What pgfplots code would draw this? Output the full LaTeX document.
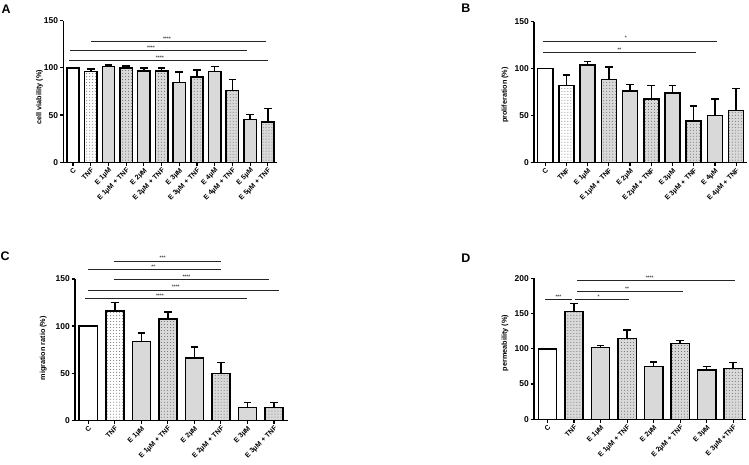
\documentclass[border=0pt]{standalone}
\usepackage{fontspec}
\setmainfont{Liberation Sans}
\usepackage{pgfplots}
\pgfplotsset{compat=1.18}
\usetikzlibrary{patterns}

\tikzset{
  sig/.style={line width=1bp, black!85},
  sigstar/.style={anchor=south, inner sep=0.6bp, yshift=0.5bp, text=black!75, font=\bfseries\fontsize{5}{5}\selectfont},
}
\pgfplotsset{
  gp/.style={
    scale only axis, anchor=south west,
    axis x line*=bottom, axis y line*=left,
    axis line style={line width=1.5bp, -, black},
    tick align=outside, major tick length=3.5bp,
    tick style={line width=1.2bp, black},
    ymin=0,
    x tick label style={rotate=45, anchor=north east, font=\bfseries\fontsize{7}{7}\selectfont, inner sep=1bp},
    y tick label style={font=\bfseries\fontsize{8.5}{9}\selectfont, inner sep=1.5bp},
    /pgf/number format/assume math mode=true,
    ylabel style={font=\bfseries\fontsize{7.3}{8}\selectfont, anchor=center},
    clip=false,
  },
  eb/.style={error bars/y dir=plus, error bars/y explicit,
    error bars/error bar style={line width=1.5bp, black},
    error bars/error mark options={rotate=90, mark size=3.8bp, line width=1.5bp, black}},
  barC/.style={ybar, bar shift=0pt, draw=black, line width=1.5bp, fill=white},
  barT/.style={ybar, bar shift=0pt, draw=black, line width=1.5bp, fill=white, postaction={pattern=dots, pattern color=black!55}},
  barE/.style={ybar, bar shift=0pt, draw=black, line width=1.5bp, fill=gray!30},
  barET/.style={ybar, bar shift=0pt, draw=black, line width=1.5bp, fill=gray!30, postaction={pattern=dots, pattern color=black!60}},
}

\begin{document}
\begin{tikzpicture}
\path[use as bounding box] (0,0) rectangle (749bp,465bp);

% ---------------- A ----------------
\node[font=\bfseries\fontsize{12.5}{13}\selectfont] at (6bp,455.5bp) {A};
\begin{axis}[gp, at={(63.3bp,302.7bp)}, width=213.4bp, height=141.6bp,
  xmin=-0.55, xmax=11.5, ymax=150, ytick={0,50,100,150},
  xtick={0,...,11},
  xticklabels={C, TNF, E 1µM, E 1µM + TNF, E 2µM, E 2µM + TNF, E 3µM, E 3µM + TNF, E 4µM, E 4µM + TNF, E 5µM, E 5µM + TNF},
  ylabel={cell viability (\%)}, ylabel style={at={(axis description cs:-0.112,0.46)}},
  bar width=0.70]
\addplot[barC] table[x=x,y=y] {
x y
0 100
};
\addplot[barT, eb] table[x=x,y=y,y error=e] {
x y e
1 96 3
};
\addplot[barE, eb] table[x=x,y=y,y error=e] {
x y e
2 101.3 1.7
4 96.7 3.3
6 84.7 10.9
8 96.4 5.2
10 45.2 5.3
};
\addplot[barET, eb] table[x=x,y=y,y error=e] {
x y e
3 100 2
5 96.7 3.3
7 90.4 7.4
9 76.2 11.7
11 42.7 14.5
};
\draw[sig] (axis cs:1,127.8) -- (axis cs:10.9,127.8);
\node[sigstar] at (axis cs:5.3,127.8) {****};
\draw[sig] (axis cs:-0.15,117.9) -- (axis cs:9.8,117.9);
\node[sigstar] at (axis cs:4.4,117.9) {****};
\draw[sig] (axis cs:-0.2,107.7) -- (axis cs:11,107.7);
\node[sigstar] at (axis cs:4.9,107.7) {****};
\end{axis}

% ---------------- B ----------------
\node[font=\bfseries\fontsize{12.5}{13}\selectfont] at (465.8bp,456.3bp) {B};
\begin{axis}[gp, at={(534bp,302.3bp)}, width=212.7bp, height=141bp,
  xmin=-0.53, xmax=9.5, ymax=150, ytick={0,50,100,150},
  xtick={0,...,9},
  xticklabels={C, TNF, E 1µM, E 1µM + TNF, E 2µM, E 2µM + TNF, E 3µM, E 3µM + TNF, E 4µM, E 4µM + TNF},
  ylabel={proliferation (\%)}, ylabel style={at={(axis description cs:-0.136,0.48)}},
  bar width=0.71]
\addplot[barC] table[x=x,y=y] {
x y
0 100
};
\addplot[barT, eb] table[x=x,y=y,y error=e] {
x y e
1 81.9 11.4
};
\addplot[barE, eb] table[x=x,y=y,y error=e] {
x y e
2 104 3.4
4 76.2 6.8
6 74 8.3
8 50.3 17.4
};
\addplot[barET, eb] table[x=x,y=y,y error=e] {
x y e
3 88.3 13.7
5 68 14.3
7 44.3 16
9 55.7 23
};
\draw[sig] (axis cs:-0.1,129.4) -- (axis cs:8.1,129.4);
\node[sigstar] at (axis cs:3.8,129.4) {*};
\draw[sig] (axis cs:-0.1,117.4) -- (axis cs:7.1,117.4);
\node[sigstar] at (axis cs:3.5,117.4) {**};
\end{axis}

% ---------------- C ----------------
\node[font=\bfseries\fontsize{12.5}{13}\selectfont] at (5bp,208.3bp) {C};
\begin{axis}[gp, at={(75bp,44.7bp)}, width=213bp, height=141.3bp,
  xmin=-0.5, xmax=7.53, ymax=150, ytick={0,50,100,150},
  xtick={0,...,7},
  xticklabels={C, TNF, E 1µM, E 1µM + TNF, E 2µM, E 2µM + TNF, E 3µM, E 3µM + TNF},
  ylabel={migration ratio (\%)}, ylabel style={at={(axis description cs:-0.149,0.51)}},
  bar width=0.68]
\addplot[barC] table[x=x,y=y] {
x y
0 100
};
\addplot[barT, eb] table[x=x,y=y,y error=e] {
x y e
1 116 8.8
};
\addplot[barE, eb] table[x=x,y=y,y error=e] {
x y e
2 83.8 8.8
4 66.4 11.3
6 13.8 4.9
};
\addplot[barET, eb] table[x=x,y=y,y error=e] {
x y e
3 107.5 7.4
5 49.5 11.7
7 13.4 5.7
};
\draw[sig] (axis cs:0.97,169) -- (axis cs:4.99,169);
\node[sigstar] at (axis cs:2.8,169) {***};
\draw[sig] (axis cs:0,160.2) -- (axis cs:4.99,160.2);
\node[sigstar] at (axis cs:2.45,160.2) {**};
\draw[sig] (axis cs:0.96,149.6) -- (axis cs:6.82,149.6);
\node[sigstar] at (axis cs:3.7,149.6) {****};
\draw[sig] (axis cs:0,138.3) -- (axis cs:7.2,138.3);
\node[sigstar] at (axis cs:3.3,138.3) {****};
\draw[sig] (axis cs:-0.11,129.1) -- (axis cs:5.98,129.1);
\node[sigstar] at (axis cs:2.7,129.1) {****};
\end{axis}

% ---------------- D ----------------
\node[font=\bfseries\fontsize{12.5}{13}\selectfont] at (465.8bp,206.7bp) {D};
\begin{axis}[gp, at={(534bp,45.7bp)}, width=211.7bp, height=141bp,
  xmin=-0.51, xmax=7.47, ymax=200, ytick={0,50,100,150,200},
  xtick={0,...,7},
  xticklabels={C, TNF, E 1µM, E 1µM + TNF, E 2µM, E 2µM + TNF, E 3µM, E 3µM +TNF},
  ylabel={permeability (\%)}, ylabel style={at={(axis description cs:-0.137,0.54)}},
  bar width=0.69]
\addplot[barC] table[x=x,y=y] {
x y
0 100
};
\addplot[barE, eb] table[x=x,y=y,y error=e] {
x y e
2 101.7 2.8
4 74.7 6.6
6 70 5.2
};
\addplot[barET, eb] table[x=x,y=y,y error=e] {
x y e
1 152.7 11.3
3 114.4 12.3
5 107.8 3.8
7 72.3 8.6
};
\draw[sig] (axis cs:-0.09,170.2) -- (axis cs:0.91,170.2);
\node[sigstar] at (axis cs:0.41,170.2) {***};
\draw[sig] (axis cs:1.04,170.2) -- (axis cs:3.08,170.2);
\node[sigstar] at (axis cs:1.92,170.2) {*};
\draw[sig] (axis cs:1.12,181) -- (axis cs:5.1,181);
\node[sigstar] at (axis cs:3.0,181) {**};
\draw[sig] (axis cs:1.12,196.2) -- (axis cs:7.08,196.2);
\node[sigstar] at (axis cs:3.85,196.2) {****};
\end{axis}
\end{tikzpicture}
\end{document}
